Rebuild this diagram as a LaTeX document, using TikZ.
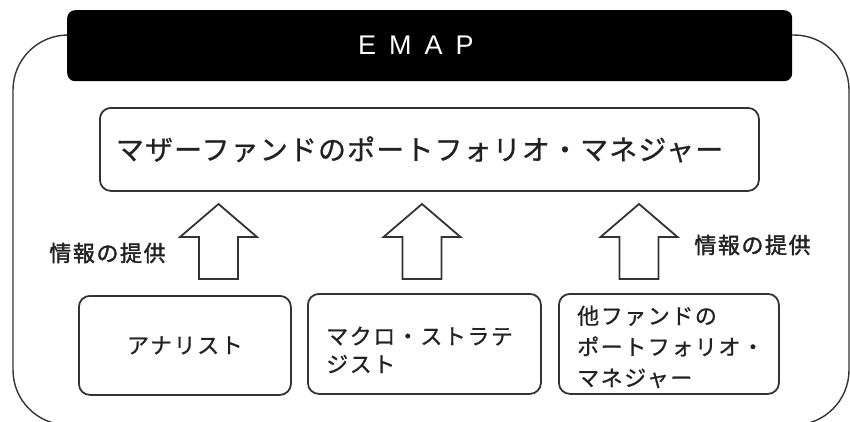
\documentclass[tikz,border=0pt]{standalone}
\usepackage{fontspec}
\setmainfont{Noto Sans CJK JP}
\newfontfamily\jpfont[FakeBold=0.8]{Noto Sans CJK JP}
\newfontfamily\jpbold[FakeBold=1.8]{Noto Sans CJK JP}
\newfontfamily\latinsans{Liberation Sans}
\definecolor{ink}{HTML}{222222}
\definecolor{linec}{HTML}{333333}
\tikzset{
  frameline/.style={draw=linec, line width=1.4pt},
  boxstyle/.style={draw=linec, line width=1.8pt, rounded corners=11pt, fill=white, text=ink, inner sep=0pt},
  smalltext/.style={font=\jpfont\fontsize{22}{30}\selectfont\addfontfeatures{LetterSpace=7}, text=ink},
  labeltext/.style={font=\jpbold\fontsize{22}{30}\selectfont\addfontfeatures{LetterSpace=7}, text=ink},
  arrowline/.style={draw=linec, line width=1.8pt, fill=white, line join=miter},
  uparrow/.pic={\path[arrowline] (-19.5,0) -- (-19.5,-42) -- (-38.5,-42) -- (0,-75) -- (38.5,-42) -- (19.5,-42) -- (19.5,0) -- cycle;}
}
\begin{document}
\begin{tikzpicture}[x=1pt,y=-1pt]
\useasboundingbox (0,0) rectangle (850,421);
\clip (0,0) rectangle (850,421);
% outer frame
\path[frameline, rounded corners=55pt] (13,35) rectangle (849,425);
% black header bar
\node[fill=black, rounded corners=8pt, minimum width=725pt, minimum height=71pt, inner sep=0pt, anchor=north west] (bar) at (67,10) {};
\node[text=white, font=\latinsans\fontsize{27}{30}\selectfont, inner sep=0pt] (emap) at (416,45) {E\hspace{13pt}M\hspace{13pt}A\hspace{13pt}P};
% main box
\node[boxstyle, anchor=north west, minimum width=659pt, minimum height=83pt, text width=627pt, inner xsep=16pt, align=left,
      font=\jpfont\fontsize{28}{30}\selectfont\addfontfeatures{LetterSpace=4}] (mother) at (99,107) {マザーファンドのポートフォリオ・マネジャー};
% bottom boxes
\node[boxstyle, smalltext, anchor=north west, minimum width=212pt, minimum height=99pt, align=center] (analyst) at (78,295) {アナリスト};
\node[boxstyle, anchor=north west, minimum width=233pt, minimum height=100pt] (macro) at (307,293) {};
\node[smalltext, inner sep=0pt, anchor=west, align=left, font=\jpfont\fontsize{22}{28}\selectfont\addfontfeatures{LetterSpace=7}] (macrotext) at ([xshift=19pt,yshift=-6pt]macro.west) {マクロ・ストラテ\\ジスト};
\node[boxstyle, anchor=north west, minimum width=220pt, minimum height=100pt] (other) at (558,293) {};
\node[smalltext, inner sep=0pt, anchor=west, align=left, font=\jpfont\fontsize{22}{31}\selectfont\addfontfeatures{LetterSpace=7}] (othertext) at ([xshift=19pt,yshift=-3pt]other.west) {他ファンドの\\ポートフォリオ・\\マネジャー};
% block arrows
\pic at (218.5,279) {uparrow};
\pic at (422,279) {uparrow};
\pic at (639,279) {uparrow};
% labels
\node[labeltext, inner sep=0pt] (lab1) at (107.5,253) {情報の提供};
\node[labeltext, inner sep=0pt] (lab2) at (752.5,245) {情報の提供};
\end{tikzpicture}
\end{document}
